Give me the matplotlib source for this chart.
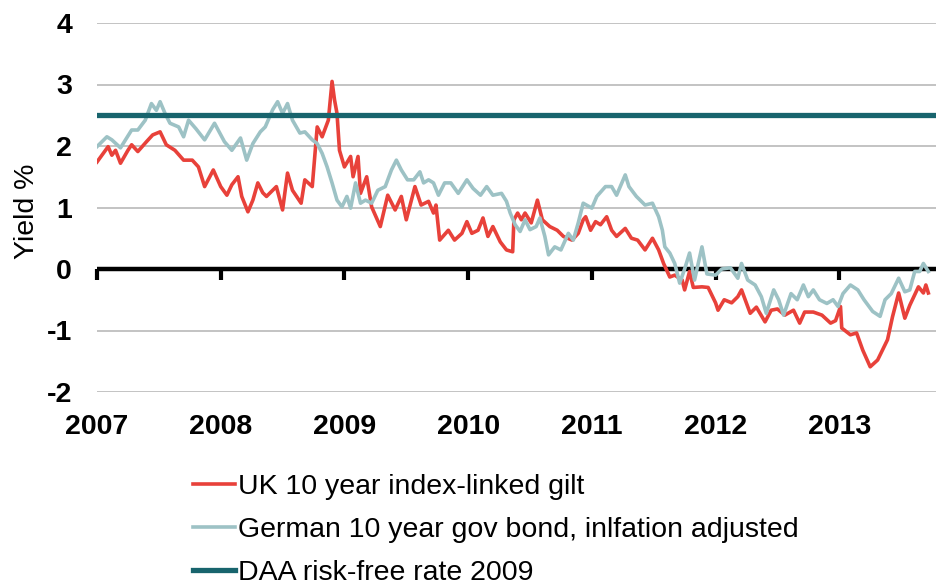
import numpy as np
from matplotlib import pyplot as plt

# region Data
uk_t = [2007.00, 2007.09, 2007.12, 2007.15, 2007.19, 2007.25, 2007.28, 2007.33, 2007.40, 2007.45,
        2007.51, 2007.56, 2007.63, 2007.70, 2007.77, 2007.82, 2007.87, 2007.94, 2008.00, 2008.05,
        2008.09, 2008.14, 2008.17, 2008.22, 2008.26, 2008.30, 2008.34, 2008.37, 2008.45, 2008.50,
        2008.54, 2008.58, 2008.65, 2008.68, 2008.74, 2008.76, 2008.78, 2008.82, 2008.87, 2008.90,
        2008.92, 2008.94, 2008.96, 2009.00, 2009.05, 2009.07, 2009.11, 2009.13, 2009.18, 2009.22,
        2009.29, 2009.35, 2009.41, 2009.46, 2009.50, 2009.57, 2009.62, 2009.68, 2009.72, 2009.74,
        2009.77, 2009.84, 2009.89, 2009.95, 2009.99, 2010.03, 2010.08, 2010.12, 2010.16, 2010.20,
        2010.26, 2010.31, 2010.36, 2010.37, 2010.40, 2010.43, 2010.46, 2010.51, 2010.56, 2010.60,
        2010.66, 2010.72, 2010.77, 2010.84, 2010.89, 2010.93, 2010.95, 2010.99, 2011.03, 2011.07,
        2011.12, 2011.16, 2011.20, 2011.27, 2011.32, 2011.37, 2011.43, 2011.49, 2011.54, 2011.58,
        2011.63, 2011.67, 2011.73, 2011.75, 2011.79, 2011.82, 2011.89, 2011.94, 2012.00, 2012.02,
        2012.07, 2012.13, 2012.18, 2012.21, 2012.28, 2012.33, 2012.40, 2012.45, 2012.50, 2012.56,
        2012.63, 2012.68, 2012.72, 2012.79, 2012.86, 2012.93, 2012.97, 2013.01, 2013.02, 2013.09,
        2013.14, 2013.19, 2013.25, 2013.31, 2013.39, 2013.43, 2013.48, 2013.53, 2013.57, 2013.64,
        2013.68, 2013.70, 2013.72]
uk_v = [1.74, 1.99, 1.85, 1.93, 1.72, 1.93, 2.02, 1.91, 2.07, 2.18,
        2.23, 2.02, 1.93, 1.77, 1.77, 1.66, 1.34, 1.61, 1.34, 1.20,
        1.37, 1.50, 1.18, 0.93, 1.12, 1.40, 1.24, 1.18, 1.34, 0.96,
        1.56, 1.28, 1.07, 1.45, 1.34, 1.83, 2.31, 2.15, 2.42, 3.05,
        2.75, 2.53, 1.93, 1.66, 1.83, 1.50, 1.83, 1.23, 1.50, 1.01,
        0.69, 1.20, 0.96, 1.18, 0.80, 1.34, 1.04, 1.10, 0.91, 1.04,
        0.47, 0.63, 0.47, 0.58, 0.77, 0.58, 0.63, 0.83, 0.53, 0.69,
        0.44, 0.31, 0.28, 0.80, 0.91, 0.80, 0.91, 0.75, 1.12, 0.80,
        0.69, 0.63, 0.53, 0.47, 0.58, 0.80, 0.85, 0.63, 0.77, 0.72,
        0.85, 0.63, 0.53, 0.66, 0.50, 0.47, 0.31, 0.50, 0.31, 0.09,
        -0.13, -0.10, -0.18, -0.34, -0.04, -0.30, -0.29, -0.30, -0.55, -0.67,
        -0.50, -0.55, -0.45, -0.34, -0.72, -0.62, -0.86, -0.67, -0.65, -0.75,
        -0.67, -0.88, -0.70, -0.70, -0.75, -0.88, -0.84, -0.61, -0.96, -1.07,
        -1.04, -1.32, -1.59, -1.48, -1.15, -0.78, -0.39, -0.80, -0.59, -0.29,
        -0.39, -0.26, -0.39]

de_t = [2007.00, 2007.08, 2007.12, 2007.19, 2007.28, 2007.33, 2007.39, 2007.44, 2007.48, 2007.51,
        2007.55, 2007.59, 2007.66, 2007.70, 2007.74, 2007.80, 2007.87, 2007.95, 2008.03, 2008.09,
        2008.16, 2008.21, 2008.26, 2008.32, 2008.36, 2008.42, 2008.46, 2008.50, 2008.54, 2008.58,
        2008.64, 2008.68, 2008.74, 2008.78, 2008.82, 2008.86, 2008.90, 2008.94, 2008.98, 2009.02,
        2009.05, 2009.09, 2009.13, 2009.17, 2009.22, 2009.27, 2009.33, 2009.38, 2009.42, 2009.46,
        2009.51, 2009.56, 2009.61, 2009.64, 2009.68, 2009.72, 2009.76, 2009.81, 2009.86, 2009.92,
        2009.99, 2010.04, 2010.10, 2010.15, 2010.20, 2010.27, 2010.31, 2010.34, 2010.38, 2010.42,
        2010.46, 2010.50, 2010.55, 2010.58, 2010.62, 2010.65, 2010.70, 2010.75, 2010.81, 2010.85,
        2010.89, 2010.93, 2011.00, 2011.04, 2011.11, 2011.16, 2011.20, 2011.27, 2011.30, 2011.36,
        2011.43, 2011.49, 2011.54, 2011.57, 2011.59, 2011.63, 2011.67, 2011.71, 2011.75, 2011.79,
        2011.83, 2011.89, 2011.93, 2012.00, 2012.05, 2012.12, 2012.18, 2012.21, 2012.26, 2012.32,
        2012.37, 2012.41, 2012.47, 2012.51, 2012.55, 2012.61, 2012.66, 2012.71, 2012.75, 2012.79,
        2012.84, 2012.90, 2012.95, 2012.99, 2013.03, 2013.09, 2013.15, 2013.20, 2013.24, 2013.27,
        2013.33, 2013.37, 2013.42, 2013.48, 2013.53, 2013.57, 2013.61, 2013.65, 2013.68, 2013.72]
de_v = [1.99, 2.15, 2.10, 1.97, 2.26, 2.26, 2.42, 2.69, 2.58, 2.72,
        2.53, 2.37, 2.31, 2.15, 2.42, 2.28, 2.10, 2.37, 2.07, 1.93,
        2.13, 1.77, 2.04, 2.23, 2.31, 2.59, 2.72, 2.53, 2.69, 2.42,
        2.21, 2.23, 2.10, 2.04, 1.88, 1.66, 1.40, 1.12, 1.01, 1.18,
        0.99, 1.40, 1.07, 1.12, 1.07, 1.28, 1.34, 1.61, 1.77, 1.61,
        1.45, 1.45, 1.58, 1.40, 1.45, 1.40, 1.20, 1.40, 1.40, 1.23,
        1.45, 1.31, 1.20, 1.34, 1.20, 1.23, 1.10, 0.91, 0.72, 0.61,
        0.80, 0.64, 0.69, 0.83, 0.53, 0.23, 0.36, 0.31, 0.58, 0.47,
        0.75, 1.07, 0.99, 1.18, 1.34, 1.34, 1.20, 1.53, 1.34, 1.18,
        1.04, 1.07, 0.85, 0.63, 0.36, 0.26, 0.09, -0.23, 0.00, 0.26,
        -0.18, 0.36, -0.08, -0.10, 0.00, 0.02, -0.15, 0.09, -0.18, -0.26,
        -0.45, -0.72, -0.34, -0.50, -0.75, -0.40, -0.50, -0.26, -0.45, -0.34,
        -0.50, -0.56, -0.50, -0.61, -0.40, -0.26, -0.34, -0.50, -0.61, -0.69,
        -0.77, -0.50, -0.40, -0.15, -0.37, -0.34, -0.04, -0.04, 0.09, -0.04]

daa_rate = 2.5
years = [2007, 2008, 2009, 2010, 2011, 2012, 2013]
yticks = [-2, -1, 0, 1, 2, 3, 4]
# endregion

# region Plot
plt.rcParams['font.family'] = ['Liberation Sans', 'DejaVu Sans']
fs = 20.5

fig = plt.figure(figsize=(9.37, 5.85), dpi=100)
ax = fig.add_axes([97 / 937, 1 - 392 / 585, 840 / 937, 369 / 585])

red = "#E8413A"
light = "#9DC2C5"
dark = "#18646D"

ax.plot(uk_t, uk_v, color=red, lw=2.6, label="UK 10 year index-linked gilt", zorder=3)
ax.plot(de_t, de_v, color=light, lw=2.6, label="German 10 year gov bond, inlfation adjusted", zorder=3)
ax.axhline(daa_rate, color=dark, lw=3.8, label="DAA risk-free rate 2009", zorder=4)
ax.axhline(0, color="black", lw=3.2, zorder=2)

ax.set_xlim(2007, 2013.79)
ax.set_ylim(-2, 4)
ax.set_yticks(yticks)
ax.set_yticklabels([str(v) for v in yticks], fontsize=fs, fontweight="bold")
ax.set_xticks(years)
ax.set_xticklabels([str(y) for y in years], fontsize=fs, fontweight="bold")
ax.tick_params(axis="both", length=0)
ax.tick_params(axis="x", pad=16)
ax.tick_params(axis="y", pad=18)
for s in ax.spines.values():
    s.set_visible(False)
ax.grid(axis="y", color="#BEBEBE", lw=1.3, zorder=1)

# year ticks hanging off the zero line
sec = ax.secondary_xaxis(1 / 3)
sec.set_xticks(years)
sec.tick_params(axis="x", direction="out", length=8, width=3, color="black", labelbottom=False)
sec.spines["bottom"].set_visible(False)

ax.set_ylabel("Yield %", fontsize=fs)
ax.yaxis.set_label_coords(-0.068, 0.49)

fig.legend(loc="upper left", bbox_to_anchor=(193 / 937, 1 - 474 / 585), frameon=False,
           fontsize=fs, handlelength=1.47, handletextpad=0.1, labelspacing=0.6,
           borderaxespad=0, borderpad=0)

plt.savefig("out.png", dpi=100)
# endregion
